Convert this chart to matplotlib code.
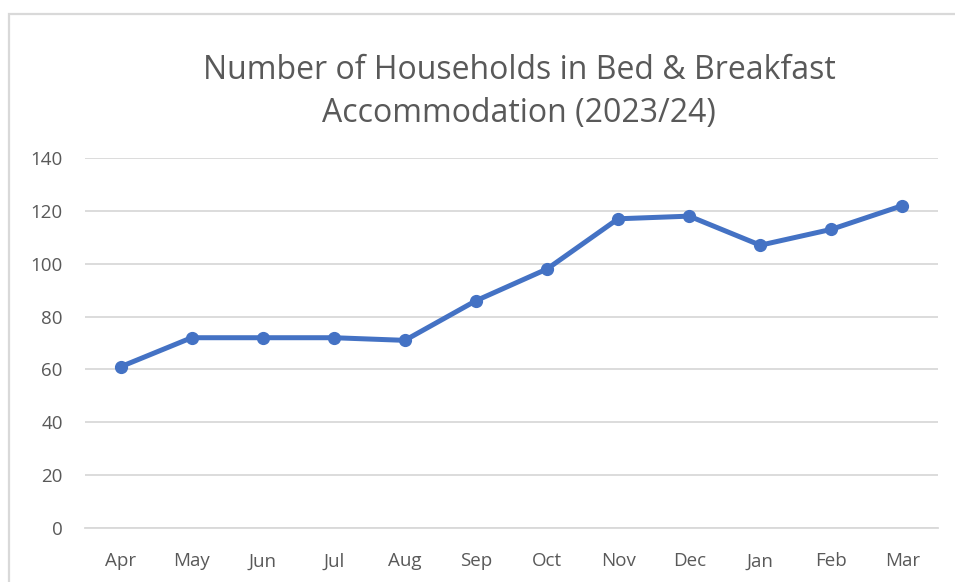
import matplotlib.pyplot as plt
from matplotlib.patches import Rectangle

months = ['Apr', 'May', 'Jun', 'Jul', 'Aug', 'Sep', 'Oct', 'Nov', 'Dec', 'Jan', 'Feb', 'Mar']
households = [61, 72, 72, 72, 71, 86, 98, 117, 118, 107, 113, 122]
yticks = [0, 20, 40, 60, 80, 100, 120, 140]

plt.rcParams['font.family'] = ['Open Sans', 'DejaVu Sans']
text_col = '#595959'
grid_col = '#D9D9D9'

fig = plt.figure(figsize=(9.55, 5.82), dpi=100)
ax = fig.add_axes([85 / 955, 1 - 528 / 582, (938 - 85) / 955, (528 - 158) / 582])

x = range(len(months))
ax.plot(x, households, color='#4472C4', linewidth=3.6, marker='o', markersize=8.5,
        solid_capstyle='round', zorder=3)

ax.set_xlim(-0.5, len(months) - 0.5)
ax.set_ylim(0, 140)
ax.set_yticks(yticks)
ax.set_xticks(list(x))
ax.set_xticklabels(months)
ax.grid(axis='y', color=grid_col, linewidth=1.3)
ax.set_axisbelow(True)
for s in ['top', 'right', 'left']:
    ax.spines[s].set_visible(False)
ax.spines['bottom'].set_color(grid_col)
ax.spines['bottom'].set_linewidth(1.3)
ax.tick_params(axis='both', length=0, labelsize=13.5, colors=text_col)
ax.tick_params(axis='y', pad=16)
ax.tick_params(axis='x', pad=17.5)

fig.text(519 / 955, 1 - 92 / 582, 'Number of Households in Bed & Breakfast\nAccommodation (2023/24)',
         ha='center', va='center', fontsize=23, color=text_col, linespacing=1.42)

# chart frame
fig.patches.append(Rectangle((9 / 955, -0.1), 1.1, 1 - 14 / 582 + 0.1, transform=fig.transFigure,
                             fill=False, edgecolor=grid_col, linewidth=1.6))

fig.savefig('out.png', dpi=100)
